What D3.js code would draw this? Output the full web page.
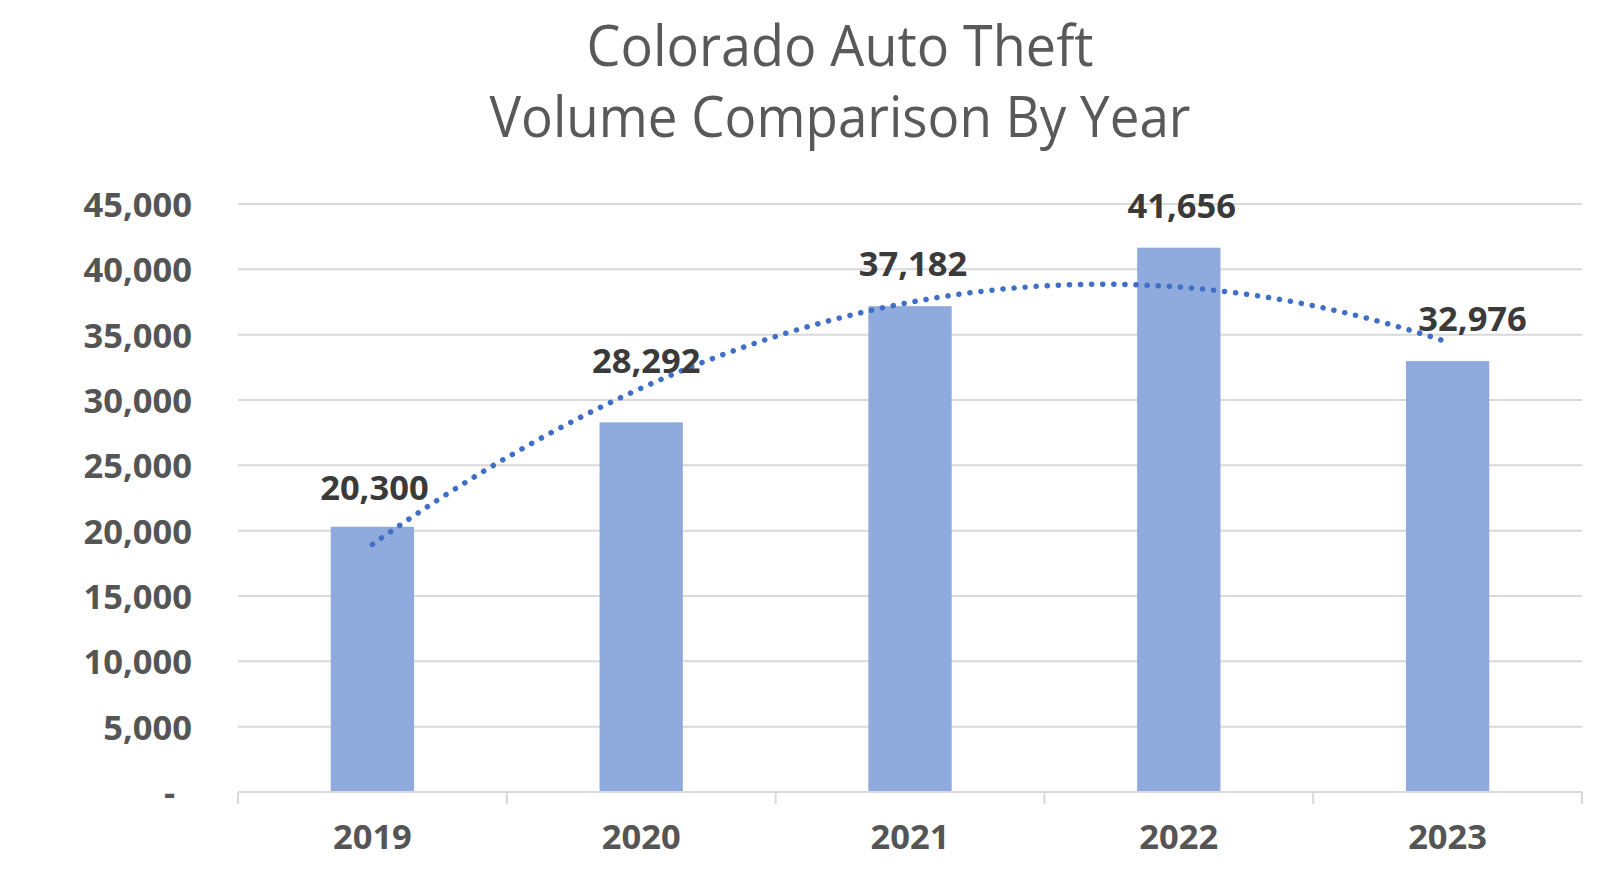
<!DOCTYPE html>
<html>
<head>
<meta charset="utf-8">
<script src="https://cdn.jsdelivr.net/npm/d3@7/dist/d3.min.js"></script>
<style>
    body { margin: 0; background: #fff; }
    text { font-family: "Open Sans", "Noto Sans", sans-serif; }
</style>
</head>
<body>
<div id="chart"></div>
<script>
// data
var years = ["2019", "2020", "2021", "2022", "2023"];
var thefts = [20300, 28292, 37182, 41656, 32976];
var yTicks = [0, 5000, 10000, 15000, 20000, 25000, 30000, 35000, 40000, 45000];
var titleLines = ["Colorado Auto Theft", "Volume Comparison By Year"];

// the data labels were dragged around by hand in the original
var labelNudgeX = [2, 5, 3, 3, 25];
var labelNudgeY = [3, -19, 0, 0, 0];

var margin = { left: 238, right: 18, top: 204, bottom: 78 };
var width = 1600 - margin.left - margin.right;
var height = 870 - margin.top - margin.bottom;

var svg = d3.select("#chart")
    .append("svg")
    .attr("width", 1600)
    .attr("height", 870);

// title
svg.selectAll("text.title")
    .data(titleLines)
    .enter()
    .append("text")
    .attr("class", "title")
    .attr("x", 840)
    .attr("y", function(d, i){ return i == 0 ? 66 : 137; })
    .attr("text-anchor", "middle")
    .attr("font-size", "56px")
    .attr("fill", "#595959")
    .attr("textLength", function(d, i){ return i == 0 ? 507 : 701; })
    .attr("lengthAdjust", "spacingAndGlyphs")
    .text(function(d){ return d; });

var g = svg.append("g")
    .attr("transform", "translate(" + margin.left + ", " + margin.top + ")");

var x = d3.scaleBand()
    .domain(years)
    .range([0, width])
    .paddingInner(0.69)
    .paddingOuter(0.345);

var y = d3.scaleLinear()
    .domain([0, 45000])
    .range([height, 0]);

// gridlines
g.append("g")
    .attr("class", "grid")
    .selectAll("line")
    .data(yTicks.filter(function(d){ return d > 0; }))
    .enter()
    .append("line")
    .attr("x1", 0)
    .attr("x2", width)
    .attr("y1", function(d){ return y(d); })
    .attr("y2", function(d){ return y(d); })
    .attr("stroke", "#d9d9d9")
    .attr("stroke-width", 2);

// y axis labels
var yAxisCall = d3.axisLeft(y)
    .tickValues(yTicks)
    .tickSize(0)
    .tickPadding(46)
    .tickFormat(function(d){ return d == 0 ? "-" : d3.format(",")(d); });

var yAxis = g.append("g")
    .attr("class", "y axis")
    .call(yAxisCall);
yAxis.select(".domain").remove();
yAxis.selectAll("text")
    .attr("font-family", "Open Sans")
    .attr("font-size", "34.5px")
    .attr("font-weight", "bold")
    .attr("fill", "#555555")
    .attr("dy", "0.36em")
    .attr("dx", function(d){ return d == 0 ? -17 : 0; });

// bars
g.selectAll("rect.bar")
    .data(thefts)
    .enter()
    .append("rect")
    .attr("class", "bar")
    .attr("x", function(d, i){ return x(years[i]); })
    .attr("width", x.bandwidth())
    .attr("y", function(d){ return y(d); })
    .attr("height", function(d){ return height - y(d) + 1; })
    .attr("fill", "#8faadc");

// x axis line and tick marks between categories
var step = x.step();
var bounds = years.map(function(d){ return x(d) - step * x.paddingInner() / 2; });
bounds.push(width);

g.append("line")
    .attr("x1", 0)
    .attr("x2", width)
    .attr("y1", y(0))
    .attr("y2", y(0))
    .attr("stroke", "#d9d9d9")
    .attr("stroke-width", 2);

g.selectAll("line.xtick")
    .data(bounds)
    .enter()
    .append("line")
    .attr("class", "xtick")
    .attr("x1", function(d){ return d; })
    .attr("x2", function(d){ return d; })
    .attr("y1", y(0))
    .attr("y2", y(0) + 12)
    .attr("stroke", "#d9d9d9")
    .attr("stroke-width", 2);

g.selectAll("text.xlabel")
    .data(years)
    .enter()
    .append("text")
    .attr("class", "xlabel")
    .attr("x", function(d){ return x(d) + x.bandwidth() / 2; })
    .attr("y", 849 - margin.top)
    .attr("text-anchor", "middle")
    .attr("font-size", "34.5px")
    .attr("font-weight", "bold")
    .attr("fill", "#555555")
    .text(function(d){ return d; });

// polynomial (order 2) trendline, least squares on the bar values like Excel does
function quadFit(ys){
    var n = ys.length, mid = (n - 1) / 2;
    var xs = ys.map(function(d, i){ return i - mid; });
    var zBar = d3.mean(xs, function(t){ return t * t; });
    var zs = xs.map(function(t){ return t * t - zBar; });
    var a = d3.mean(ys);
    var b = d3.sum(xs, function(t, i){ return t * ys[i]; }) / d3.sum(xs, function(t){ return t * t; });
    var c = d3.sum(zs, function(t, i){ return t * ys[i]; }) / d3.sum(zs, function(t){ return t * t; });
    return function(i){ var t = i - mid; return a + b * t + c * (t * t - zBar); };
}
var trend = quadFit(thefts);
var trendPts = d3.range(0, years.length - 1 + 0.001, 0.05);

var line = d3.line()
    .x(function(t){ return x(years[0]) + x.bandwidth() / 2 + t * step; })
    .y(function(t){ return y(trend(t)); });

g.append("path")
    .datum(trendPts)
    .attr("d", line)
    .attr("fill", "none")
    .attr("stroke", "#3f6fc6")
    .attr("stroke-width", 5.5)
    .attr("stroke-linecap", "round")
    .attr("stroke-dasharray", "0.1 11");

// data labels
g.selectAll("text.value")
    .data(thefts)
    .enter()
    .append("text")
    .attr("class", "value")
    .attr("x", function(d, i){ return x(years[i]) + x.bandwidth() / 2 + labelNudgeX[i]; })
    .attr("y", function(d, i){ return y(d) - 30 + labelNudgeY[i]; })
    .attr("text-anchor", "middle")
    .attr("font-size", "34.5px")
    .attr("font-weight", "bold")
    .attr("fill", "#3a3a3a")
    .text(function(d){ return d3.format(",")(d); });
</script>
</body>
</html>
